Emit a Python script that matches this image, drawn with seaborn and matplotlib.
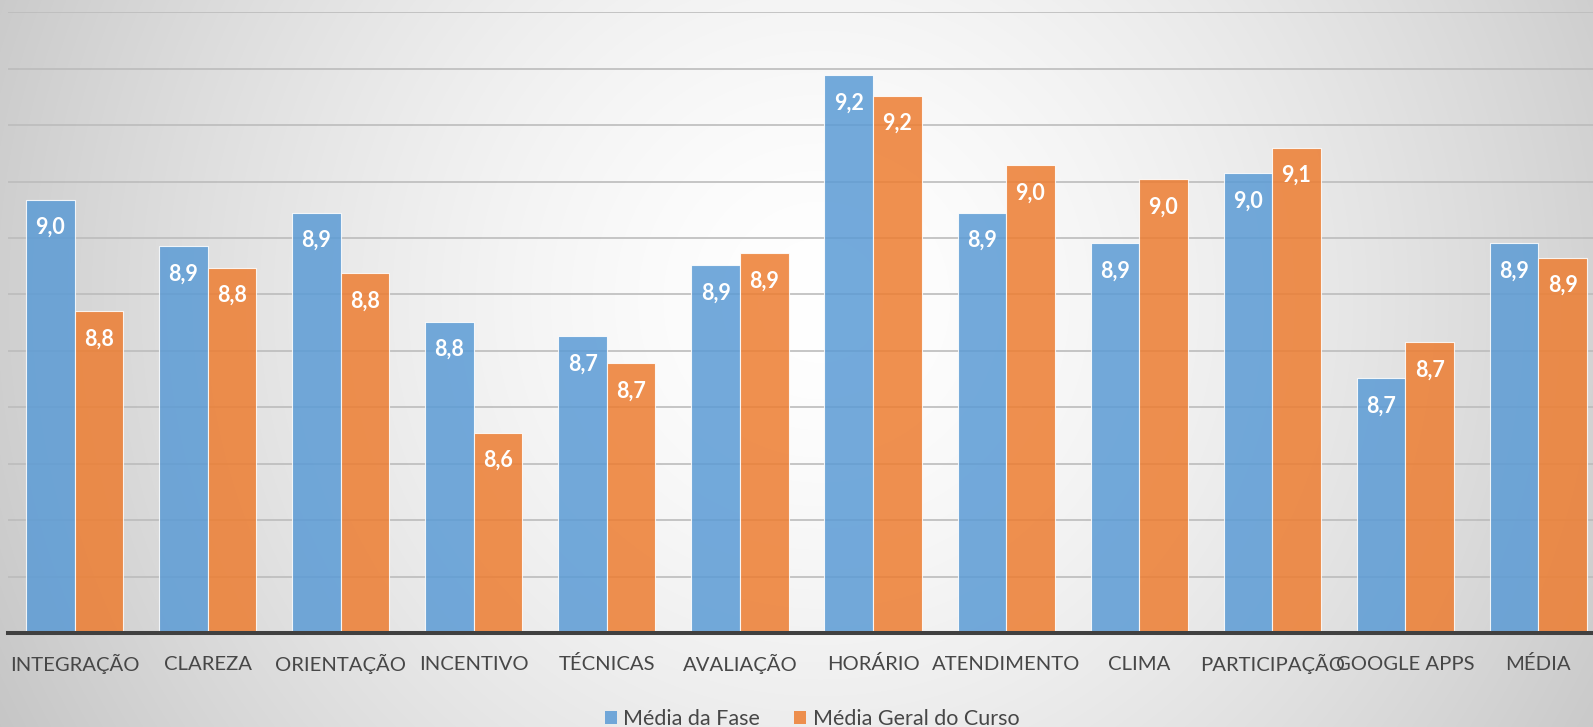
import numpy as np
import pandas as pd
import matplotlib
matplotlib.use("Agg")
import matplotlib.pyplot as plt
import seaborn as sns
from matplotlib.patches import Patch

categories = ["INTEGRAÇÃO", "CLAREZA", "ORIENTAÇÃO", "INCENTIVO", "TÉCNICAS", "AVALIAÇÃO",
              "HORÁRIO", "ATENDIMENTO", "CLIMA", "PARTICIPAÇÃO", "GOOGLE APPS", "MÉDIA"]
media_fase = [8.968, 8.885, 8.945, 8.752, 8.726, 8.852, 9.188, 8.945, 8.891, 9.015, 8.652, 8.891]
media_curso = [8.770, 8.847, 8.838, 8.555, 8.678, 8.873, 9.152, 9.029, 9.004, 9.060, 8.715, 8.865]
series_names = ["Média da Fase", "Média Geral do Curso"]
colors = ["#5B9BD5", "#ED7D31"]

df = pd.DataFrame({
    "cat": categories * 2,
    "serie": [series_names[0]] * len(categories) + [series_names[1]] * len(categories),
    "val": media_fase + media_curso,
})

sns.set_theme(style="white")
plt.rcParams["font.family"] = ["Lato", "DejaVu Sans"]

W, H = 1593, 727
fig = plt.figure(figsize=(W / 100, H / 100), dpi=100)

# radial gradient background
bg = fig.add_axes([0, 0, 1, 1], zorder=-10)
yy, xx = np.mgrid[0:H, 0:W]
d = np.sqrt((xx - 820.0) ** 2 + (yy - 300.0) ** 2) / 800.0
v = np.clip(255 - 46 * d ** 1.5, 190, 255) / 255.0
bg.imshow(np.dstack([v, v, v]), aspect="auto", extent=[0, 1, 0, 1], origin="upper")
bg.axis("off")

ax = fig.add_axes([8 / W, 94 / H, (W - 8) / W, (633 - 12.3) / H])
ax.set_facecolor("none")
sns.barplot(data=df, x="cat", y="val", hue="serie", palette=colors, hue_order=series_names,
            width=0.73, gap=0, dodge=True, alpha=0.85, saturation=1,
            edgecolor=(1, 1, 1, 0.7), linewidth=0.8, ax=ax, legend=False)

ax.set_ylim(8.2, 9.3)
ax.set_yticks(np.round(np.arange(8.2, 9.31, 0.1), 2))
ax.set_xlim(-0.5, 11.41)
ax.set_axisbelow(True)
ax.yaxis.grid(True, color="#bcbcbc", linewidth=1.2)
ax.xaxis.grid(False)
ax.tick_params(axis="y", left=False, labelleft=False)
ax.tick_params(axis="x", length=0, pad=27, labelsize=14.6, labelcolor="#474747")
for lbl in ax.get_xticklabels():
    lbl.set_verticalalignment("baseline")
ax.set_xlabel("")
ax.set_ylabel("")
for s in ["left", "right", "top"]:
    ax.spines[s].set_visible(False)
ax.spines["bottom"].set_color("#404040")
ax.spines["bottom"].set_linewidth(2.9)

for cont in ax.containers:
    for bar in cont:
        h = bar.get_height()
        ax.annotate(f"{h:.1f}".replace(".", ","), (bar.get_x() + bar.get_width() / 2, h),
                    xytext=(0, -20), textcoords="offset points", ha="center", va="center",
                    color="white", fontsize=15.5, fontweight="bold")

handles = [Patch(facecolor=c, alpha=0.85, edgecolor="none") for c in colors]
fig.legend(handles, series_names, loc="center", bbox_to_anchor=(812 / W, 1 - 719 / H),
           ncol=2, frameon=False, fontsize=15.5, handlelength=0.55, handleheight=0.55,
           handletextpad=0.3, columnspacing=1.6, labelcolor="#474747")

fig.savefig("out.png", dpi=100)
